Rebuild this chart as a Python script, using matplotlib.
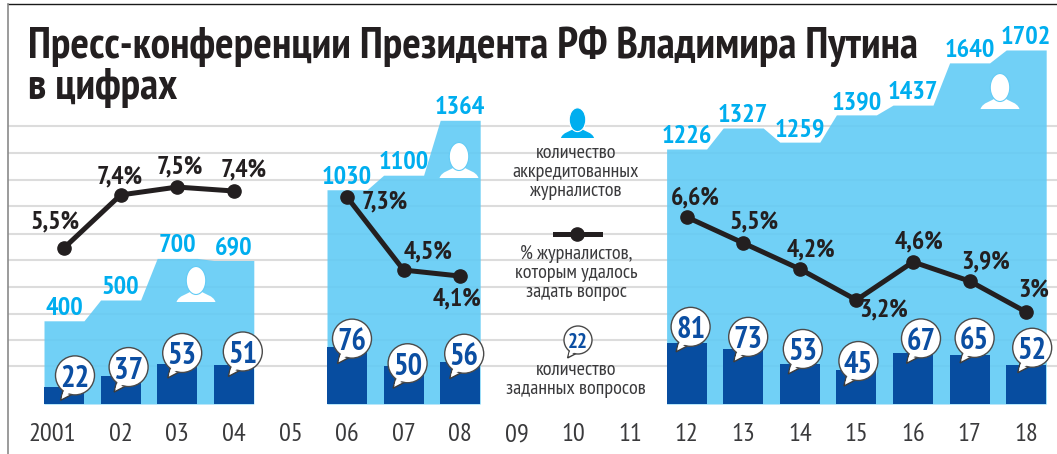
import numpy as np
import matplotlib
matplotlib.use("Agg")
import matplotlib.pyplot as plt
from matplotlib.lines import Line2D
from matplotlib.patches import Circle, Ellipse, PathPatch, Polygon
from matplotlib.path import Path
from matplotlib.transforms import ScaledTranslation

plt.rcParams['font.family'] = ['PT Sans Narrow', 'Liberation Sans', 'DejaVu Sans']

# data
tick_years = list(range(2001, 2019))
tick_labels = ['2001', '02', '03', '04', '05', '06', '07', '08', '09', '10', '11', '12', '13', '14', '15', '16', '17', '18']

groups = [[2001, 2002, 2003, 2004], [2006, 2007, 2008], [2012, 2013, 2014, 2015, 2016, 2017, 2018]]
journalists = [[400, 500, 700, 690], [1030, 1100, 1364], [1226, 1327, 1259, 1390, 1437, 1640, 1702]]
questions = [[22, 37, 53, 51], [76, 50, 56], [81, 73, 53, 45, 67, 65, 52]]
pct_labels = [['5,5%', '7,4%', '7,5%', '7,4%'], ['7,3%', '4,5%', '4,1%'],
              ['6,6%', '5,5%', '4,2%', '3,2%', '4,6%', '3,9%', '3%']]
# the line is not proportional to the printed % in the original, so heights are read off the picture
pct_heights = [[750, 1005, 1043, 1024], [995, 644, 615], [899, 774, 649, 500, 683, 591, 442]]

# label offsets in pixels
pct_offsets = [[(-9, 26), (-1, 18), (3, 20), (10, 21)], [(38, -5), (24, 18), (-3, -23)],
               [(9, 19), (11, 21), (11, 19), (27, -10), (6, 20), (16, 19), (8, 22)]]
bubble_offsets = [[(11, 12), (8, 9), (5, 11), (9, 14)], [(5, 8), (4, 3), (4, 8)],
                  [(4, 16), (5, 12), (3, 15), (2, 9), (8, 15), (5, 17), (6, 17)]]

BAR = '#074DA0'
AREA = '#62CBF5'
CYAN = '#00AEEF'
DARK = '#231F20'
GREY = '#3A3A3C'

PX_X = 56.6          # pixels per year
PX_J = 0.208         # pixels per journalist
PX_Q = 0.755         # pixels per question
W, H = 1057, 454
LEFT, BASE, TOP = 8, 404, 4


def person(a, cx, base, s, color, edge):
    verts = np.array([(-19.5, 0), (-17, 7), (-9, 7), (-5, 11), (-2, 9), (2, 9), (5, 11),
                      (9, 7), (17, 7), (19.5, 0), (-19.5, 0)]) * s + (cx, base)
    codes = [Path.MOVETO] + [Path.CURVE4] * 9 + [Path.CLOSEPOLY]
    a.add_patch(PathPatch(Path(verts, codes), fc=color, ec='none'))
    a.add_patch(Ellipse((cx, base + 21.5 * s), 19.5 * s, 28 * s, fc=color, ec=edge, lw=0.8))


def bubble(a, cx, cy, r, txt, size):
    s = r / 19.5
    tail = [(-11.5 * s, -13 * s), (-14.5 * s, -25 * s), (-2 * s, -18.5 * s)]
    a.add_patch(Polygon([(cx + u, cy + v) for u, v in tail], fc='white', ec='#3c3c3c', lw=1.0, zorder=3))
    a.add_patch(Circle((cx, cy), r, fc='white', ec='#4a4a4a', lw=1.0, zorder=3))
    inner = [(-10 * s, -12 * s), (-13.2 * s, -22 * s), (-3.5 * s, -16.5 * s), (-3 * s, -12 * s)]
    a.add_patch(Polygon([(cx + u, cy + v) for u, v in inner], fc='white', ec='none', zorder=3))
    a.text(cx, cy - 0.5, txt, ha='center', va='center_baseline', color='#0B4EA2',
           fontsize=size, fontweight='bold', zorder=4)


fig = plt.figure(figsize=(W / 100, H / 100), dpi=100)
ax = fig.add_axes([LEFT / W, (H - BASE) / H, (W - LEFT) / W, (BASE - TOP) / H])
x0 = 2001 - (64 - LEFT) / PX_X
ax.set_xlim(x0, x0 + (W - LEFT) / PX_X)
ax.set_ylim(0, (BASE - TOP) / PX_J)

for s in ['bottom', 'right', 'left']:
    ax.spines[s].set_visible(False)
ax.spines['top'].set_color('#1a1a1a')
ax.spines['top'].set_linewidth(1.0)
fig.add_artist(Line2D([LEFT / W, LEFT / W], [0, 1 - TOP / H], color='#8a8a8a', lw=1.2))

# gridlines, visible through the area
grid_y = [(BASE - py) / PX_J for py in (126, 153, 179.5, 206, 234, 260, 286.5, 313.5, 340, 366)]
ax.set_yticks(grid_y)
ax.set_yticklabels([])
ax.tick_params(axis='y', length=0)
ax.grid(axis='y', color='#DCDCDC', lw=1.5, zorder=1)
ax.set_axisbelow(True)

ax.set_xticks(tick_years)
ax.set_xticklabels(tick_labels, fontsize=19, color=GREY)
ax.tick_params(axis='x', length=0, pad=14)
first = ax.get_xticklabels()[0]
first.set_transform(first.get_transform() + ScaledTranslation(-0.12, 0, fig.dpi_scale_trans))

half = 20 / PX_X
for yrs, vals in zip(groups, journalists):
    xs = np.ravel([[y - half, y + half] for y in yrs])
    ys = np.repeat(vals, 2)
    ax.fill_between(xs, 0, ys, color=AREA, alpha=0.9, lw=0, zorder=2)
    for y, v in zip(yrs, vals):
        ax.annotate(str(v), (y, v), xytext=(0, 1), textcoords='offset pixels', ha='center', va='bottom',
                    color=CYAN, fontsize=19, fontweight='bold', zorder=6)

for yrs, h, labs, offs in zip(groups, pct_heights, pct_labels, pct_offsets):
    ax.plot(yrs, h, color=DARK, lw=3.6, marker='o', ms=9.5, zorder=5, solid_capstyle='round')
    for y, v, lab, off in zip(yrs, h, labs, offs):
        ax.annotate(lab, (y, v), xytext=off, textcoords='offset pixels', ha='center', va='center',
                    color=DARK, fontsize=18.5, fontweight='bold', zorder=6)

# questions on their own scale
ax2 = ax.twinx()
ax2.set_ylim(0, (BASE - TOP) / PX_Q)
ax2.axis('off')
for yrs, q in zip(groups, questions):
    ax2.bar(yrs, q, width=2 * half, color=BAR, zorder=3)

# overlay in pixels (y up) for title, legend, icons and bubbles
ov = fig.add_axes([0, 0, 1, 1], facecolor='none')
ov.set_xlim(0, W)
ov.set_ylim(0, H)
ov.axis('off')

for yrs, q, offs in zip(groups, questions, bubble_offsets):
    for y, v, off in zip(yrs, q, offs):
        px, py = ax2.transData.transform((y, v))
        bubble(ov, px + off[0], py + off[1], 19.5, str(v), 22)

ov.text(28, H - 58, 'Пресс-конференции Президента РФ Владимира Путина', fontsize=31.4, fontweight='bold',
        color=DARK, ha='left', va='baseline')
ov.text(28, H - 99, 'в цифрах', fontsize=31.4, fontweight='bold', color=DARK, ha='left', va='baseline')

person(ov, 196, H - 302, 1.0, 'white', AREA)
person(ov, 459, H - 178, 1.0, 'white', AREA)
person(ov, 1000, H - 109, 1.0, 'white', AREA)

# legend
person(ov, 577.5, H - 138, 0.85, CYAN, 'white')
for py, t in [(153, 'количество'), (172, 'аккредитованных'), (191, 'журналистов'),
              (254, '% журналистов,'), (273, 'которым удалось'), (292, 'задать вопрос'),
              (370, 'количество'), (389, 'заданных вопросов')]:
    ov.text(576, H - py, t, fontsize=14.5, color=GREY, ha='center', va='center')
ov.plot([555, 600], [H - 234, H - 234], color=DARK, lw=3.6)
ov.plot([577], [H - 234], 'o', color=DARK, ms=9.5)
bubble(ov, 578, H - 340, 14, '22', 15)

fig.savefig('out.png', dpi=100)
